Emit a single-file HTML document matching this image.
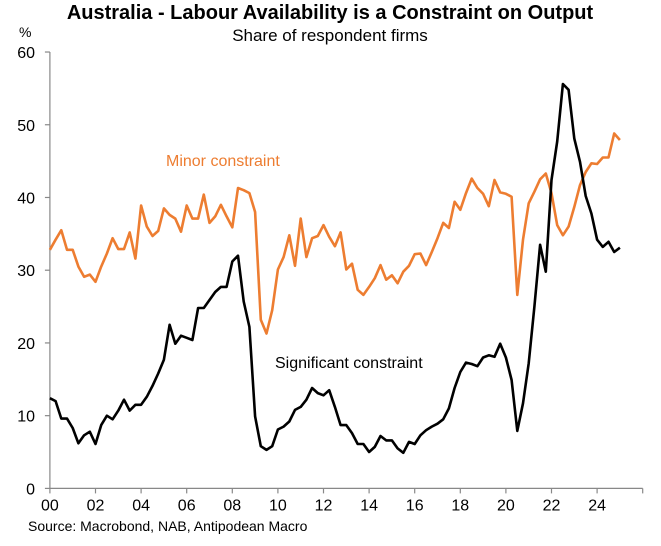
<!DOCTYPE html>
<html><head><meta charset="utf-8"><style>
body{margin:0;background:#fff;}
svg text{font-family:"Liberation Sans",Arial,sans-serif;}
</style></head><body>
<svg id="chart" width="661" height="541" viewBox="0 0 661 541">
<text x="330" y="19" text-anchor="middle" font-size="20" font-weight="bold" fill="#000">Australia - Labour Availability is a Constraint on Output</text>
<text x="330" y="41" text-anchor="middle" font-size="17" fill="#000">Share of respondent firms</text>
<text x="19" y="37" font-size="14" fill="#000">%</text>
<g id="axes"></g>
<g id="series"></g>
<text x="166" y="166" font-size="16" fill="#ed7d31">Minor constraint</text>
<text x="275" y="368" font-size="16" fill="#000">Significant constraint</text>
<text x="28" y="531" font-size="14" fill="#000">Source: Macrobond, NAB, Antipodean Macro</text>
</svg>
<script>
const startYear = 2000;
const minorValues = [32.8,34.2,35.5,32.8,32.8,30.5,29.1,29.4,28.4,30.5,32.3,34.4,32.9,32.9,35.2,31.6,38.9,36.0,34.7,35.4,38.5,37.6,37.1,35.3,38.9,37.1,37.1,40.4,36.5,37.4,39.0,37.4,35.9,41.3,41.0,40.6,38.0,23.2,21.3,24.5,30.1,31.8,34.8,30.6,37.1,31.8,34.4,34.7,36.2,34.6,33.3,35.2,30.1,30.9,27.3,26.6,27.7,28.9,30.7,28.7,29.3,28.2,29.8,30.6,32.2,32.3,30.7,32.5,34.4,36.5,35.8,39.4,38.3,40.6,42.6,41.3,40.5,38.8,42.4,40.7,40.5,40.1,26.6,34.2,39.2,40.8,42.5,43.3,40.6,36.2,34.8,36.0,38.7,41.7,43.5,44.7,44.6,45.5,45.5,48.8,47.9];
const significantValues = [12.4,12.0,9.6,9.6,8.3,6.2,7.3,7.8,6.1,8.7,10.0,9.5,10.7,12.2,10.7,11.5,11.5,12.6,14.1,15.8,17.7,22.5,19.9,21.0,20.7,20.4,24.8,24.8,25.9,27.0,27.7,27.7,31.2,32.0,25.7,22.2,9.9,5.8,5.3,5.8,8.1,8.5,9.2,10.8,11.2,12.2,13.8,13.1,12.8,13.5,11.2,8.7,8.7,7.6,6.1,6.1,5.0,5.7,7.2,6.6,6.6,5.5,4.9,6.4,6.1,7.3,8.0,8.5,8.9,9.5,11.0,13.8,16.0,17.3,17.1,16.8,18.0,18.3,18.1,19.9,18.0,14.9,7.9,11.7,17.2,25.0,33.5,29.8,42.4,47.7,55.6,54.8,48.1,44.9,40.2,37.8,34.2,33.2,33.9,32.5,33.1];
const yTicks = [0,10,20,30,40,50,60];
const xTickLabels = ["00","02","04","06","08","10","12","14","16","18","20","22","24"];

const X0 = 49.9, PX_PER_YEAR = 22.8, Y0 = 488.4, PX_PER_UNIT = 7.273;
function xScale(yearOffset){ return X0 + yearOffset*PX_PER_YEAR; }
function yScale(v){ return Y0 - v*PX_PER_UNIT; }
const NS = "http://www.w3.org/2000/svg";
const axes = document.getElementById('axes');
const series = document.getElementById('series');
function mk(tag, attrs, parent){ const e=document.createElementNS(NS,tag); for(const k in attrs) e.setAttribute(k,attrs[k]); parent.appendChild(e); return e; }

const yAxis = mk('line',{x1:X0,y1:yScale(60),x2:X0,y2:Y0,stroke:'#888','stroke-width':1.2},axes);


const xAxis = mk('line',{x1:X0,y1:Y0,x2:xScale(26),y2:Y0,stroke:'#888','stroke-width':1.2},axes);


yTicks.forEach(v=>{
  const t = mk('line',{x1:X0-5,y1:yScale(v),x2:X0,y2:yScale(v),stroke:'#888','stroke-width':1.2},axes);
  
  
  const l = mk('text',{x:35,y:yScale(v)+6,'text-anchor':'end','font-size':16,fill:'#000'},axes);
  l.textContent = v;
  
  
});
for(let i=0;i<=13;i++){
  const t = mk('line',{x1:xScale(i*2),y1:Y0,x2:xScale(i*2),y2:Y0+5,stroke:'#888','stroke-width':1.2},axes);
  
  
}
xTickLabels.forEach((lab,i)=>{
  const l = mk('text',{x:xScale(i*2),y:Y0+22,'text-anchor':'middle','font-size':16,fill:'#000'},axes);
  l.textContent = lab;
  
  
});
function pts(vals){ return vals.map((v,i)=>xScale(i/4).toFixed(1)+','+yScale(v).toFixed(1)).join(' '); }
const minorLine = mk('polyline',{points:pts(minorValues),fill:'none',stroke:'#ed7d31','stroke-width':2.6,'stroke-linejoin':'round'},series);


const sigLine = mk('polyline',{points:pts(significantValues),fill:'none',stroke:'#000','stroke-width':2.6,'stroke-linejoin':'round'},series);


</script>
</body></html>
